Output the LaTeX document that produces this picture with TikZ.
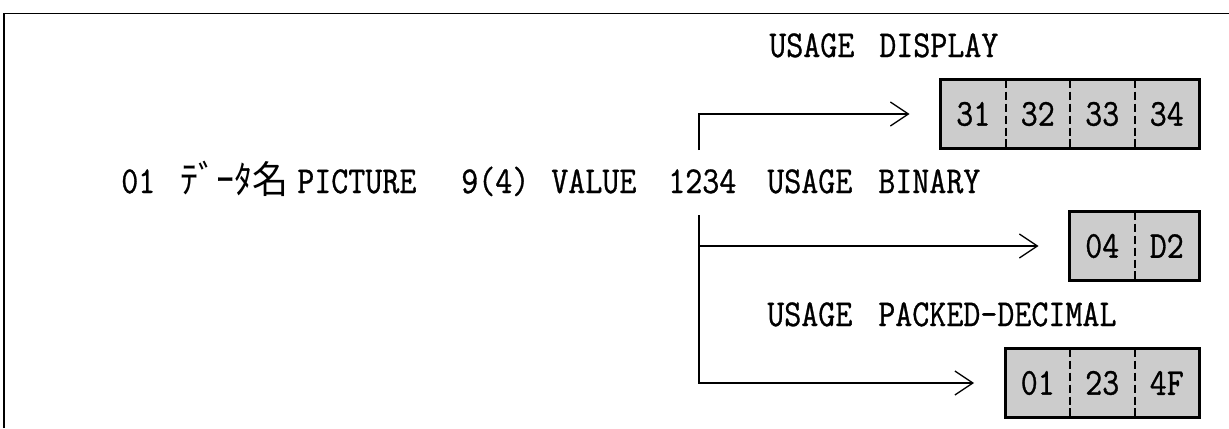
\documentclass[tikz,border=0pt]{standalone}
\usepackage{fontspec}
\setmonofont{Latin Modern Mono}[FakeStretch=0.87, FakeBold=0.8]
\newfontfamily\jpfont{Noto Sans CJK JP}[FakeStretch=0.95]
\usetikzlibrary{arrows.meta}
\begin{document}
\begin{tikzpicture}[x=0.025cm, y=-0.025cm,
		word/.style={anchor=base west, inner sep=0pt, font=\ttfamily\fontsize{27}{30}\selectfont},
		cell/.style={fill=black!20, minimum width=1.6125cm, minimum height=1.7cm, inner sep=0pt, font=\ttfamily\fontsize{27}{30}\selectfont},
		boxline/.style={line width=2pt},
		sep/.style={line width=1.3pt, dash pattern=on 6pt off 2.5pt},
		flow/.style={line width=0.9pt, -{Straight Barb[length=0.45cm, width=0.6cm, line width=0.9pt]}, shorten >=0.78cm},
	]
	\useasboundingbox (0,0) rectangle (1229,428);
	\draw[line width=0.8pt] (4,428) -- (4,13.5) -- (1229,13.5);

	% declaration line
	\node[word] (lvl)   at (121,193) {01};
	\node[word] (dname) at (180,193) {\jpfont ﾃﾞｰﾀ名};
	\node[word] (pic)   at (297,193) {PICTURE};
	\node[word] (nine)  at (461,193) {9(4)};
	\node[word] (val)   at (551,193) {VALUE};
	\node[word] (num)   at (668,193) {1234};
	\node[word] (use2)  at (767,193) {USAGE};
	\node[word] (bin)   at (878,193) {BINARY};

	% usage labels
	\node[word] (use1)  at (769,57)  {USAGE};
	\node[word] (disp)  at (879,57)  {DISPLAY};
	\node[word] (use3)  at (767,326) {USAGE};
	\node[word] (pack)  at (878,326) {PACKED-DECIMAL};

	% storage boxes
	\foreach \v [count=\i] in {31,32,33,34}
		\node[cell] (d\i) at ({1199-64.5*(4-\i)-32.25},114) {\v};
	\foreach \v [count=\i] in {04,D2}
		\node[cell] (b\i) at ({1199-64.5*(2-\i)-32.25},246) {\v};
	\foreach \v [count=\i] in {01,23,4F}
		\node[cell] (p\i) at ({1199-64.5*(3-\i)-32.25},383) {\v};

	\foreach \i in {1,2,3}
		\draw[sep] (d\i.north east) -- (d\i.south east);
	\draw[sep] (b1.north east) -- (b1.south east);
	\foreach \i in {1,2}
		\draw[sep] (p\i.north east) -- (p\i.south east);
	\draw[boxline] (d1.north west) rectangle (d4.south east);
	\draw[boxline] (b1.north west) rectangle (b2.south east);
	\draw[boxline] (p1.north west) rectangle (p3.south east);

	% arrows
	\coordinate (up) at (699,150);
	\coordinate (down) at (699,215);
	\draw[flow] (up) |- (d1.west);
	\draw[flow] (down) |- (b1.west);
	\draw[flow] (down) |- (p1.west);
\end{tikzpicture}
\end{document}
